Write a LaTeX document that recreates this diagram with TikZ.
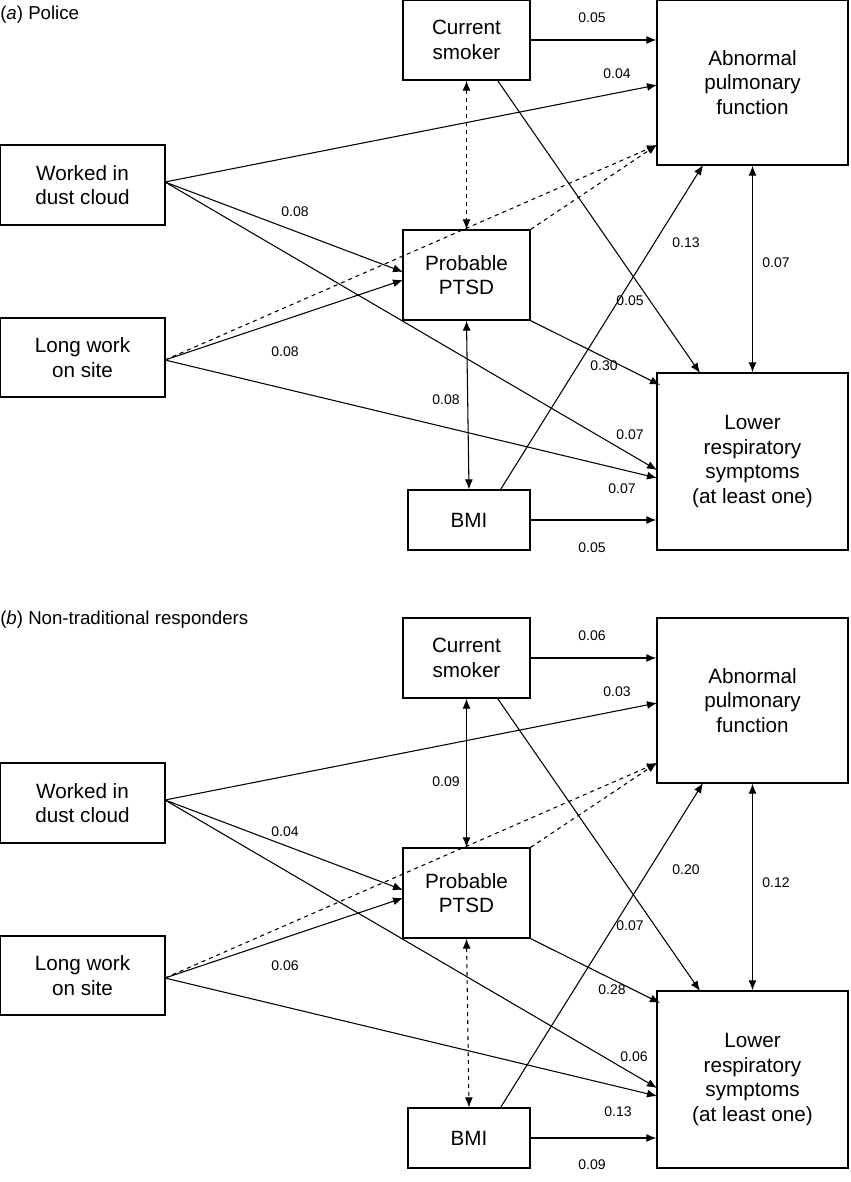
\documentclass[tikz,border=0pt]{standalone}
\usepackage{fontspec}
\setmainfont{Liberation Sans}
\usetikzlibrary{arrows.meta}
\begin{document}
\begin{tikzpicture}[x=0.75pt,y=-0.75pt,
 box/.style={draw,line width=1pt,inner sep=0pt,align=center,font=\fontsize{15.5}{18.5}\selectfont},
 lab/.style={font=\fontsize{10.5}{12}\selectfont,inner sep=1pt},
 arr/.style={-{Latex[length=7.5pt,width=6pt]},line width=0.8pt},
 darr/.style={{Latex[length=7.5pt,width=6pt]}-{Latex[length=7.5pt,width=6pt]},line width=0.8pt},
 ttl/.style={anchor=west,inner sep=0pt,font=\fontsize{14}{16}\selectfont}]
\useasboundingbox (0,0) rectangle (850,1182);
\foreach \p/\o in {a/0,b/618}{
\begin{scope}[yshift={-\o*0.75pt}]
\node[box,minimum width=95.25pt,minimum height=60pt] (\p sm) at (466.5,40) {Current\\smoker};
\node[box,minimum width=143.25pt,minimum height=123.75pt] (\p ab) at (752.5,82.5) {Abnormal\\pulmonary\\function};
\node[box,minimum width=123.75pt,minimum height=60pt] (\p wd) at (82.5,185) {Worked in\\dust cloud};
\node[box,minimum width=95.25pt,minimum height=67.5pt] (\p pt) at (466.5,275) {Probable\\PTSD};
\node[box,minimum width=123.75pt,minimum height=59.25pt] (\p lw) at (82.5,357.5) {Long work\\on site};
\node[box,minimum width=143.25pt,minimum height=132.75pt] (\p lr) at (752.5,461.5) {Lower\\respiratory\\symptoms\\(at least one)};
\node[box,minimum width=91.5pt,minimum height=45pt] (\p bm) at (469,520) {BMI};
\coordinate (\p abL1) at (657,85);
\coordinate (\p abL2) at (657,145);
\coordinate (\p abB) at (703,165);
\coordinate (\p lrT) at (700,373);
\coordinate (\p lrL1) at (660,385);
\coordinate (\p lrL2) at (657,470);
\coordinate (\p lrL3) at (657,478);
\coordinate (\p wdR) at (165,182);
\coordinate (\p lwR) at (165,360);
\coordinate (\p ptL1) at (403,272);
\coordinate (\p ptL2) at (403,280);
\draw[arr] (\p sm.east) -- (\p sm.east -| \p ab.west);
\draw[arr] (\p sm.south east)++(-33,0) -- (\p lrT);
\draw[arr] (\p wdR) -- (\p abL1);
\draw[arr] (\p wdR) -- (\p ptL1);
\draw[arr] (\p wdR) -- (\p lrL2);
\draw[arr,dashed] (\p lwR) -- (\p abL2);
\draw[arr] (\p lwR) -- (\p ptL2);
\draw[arr] (\p lwR) -- (\p lrL3);
\draw[arr,dashed] (\p pt.north east) -- (\p abL2);
\draw[arr] (\p pt.south east) -- (\p lrL1);
\draw[arr] (\p bm.north east)++(-30,0) -- (\p abB);
\draw[arr] (\p bm.east) -- (\p bm.east -| \p lr.west);
\draw[darr] (\p ab.south) -- (\p lr.north);
\end{scope}}
% panel-specific
\draw[darr,dashed] (asm.south) -- (apt.north);
\draw[darr] (apt.south) -- (abm.north);
\draw[darr] (bsm.south) -- (bpt.north);
\draw[darr,dashed] (bpt.south) -- (bbm.north);
\node[ttl] (ta) at (0,15) {(\textit{a}) Police};
\node[ttl] (tb) at (0,620) {(\textit{b}) Non-traditional responders};
\foreach \t/\x/\y [count=\i] in {0.05/592/18,0.04/617/74,0.08/295/212,0.05/630/301,0.13/686/243,0.07/776/263,0.08/285/352,0.30/604/366,0.08/446/400,0.07/630/435,0.07/622/489,0.05/592/548,
0.06/592/636,0.03/617/692,0.09/446/782,0.04/285/832,0.20/686/870,0.12/776/883,0.07/630/926,0.06/285/966,0.28/612/990,0.06/634/1057,0.13/618/1112,0.09/592/1165}
 \node[lab] (l\i) at (\x,\y) {\t};
\end{tikzpicture}
\end{document}
